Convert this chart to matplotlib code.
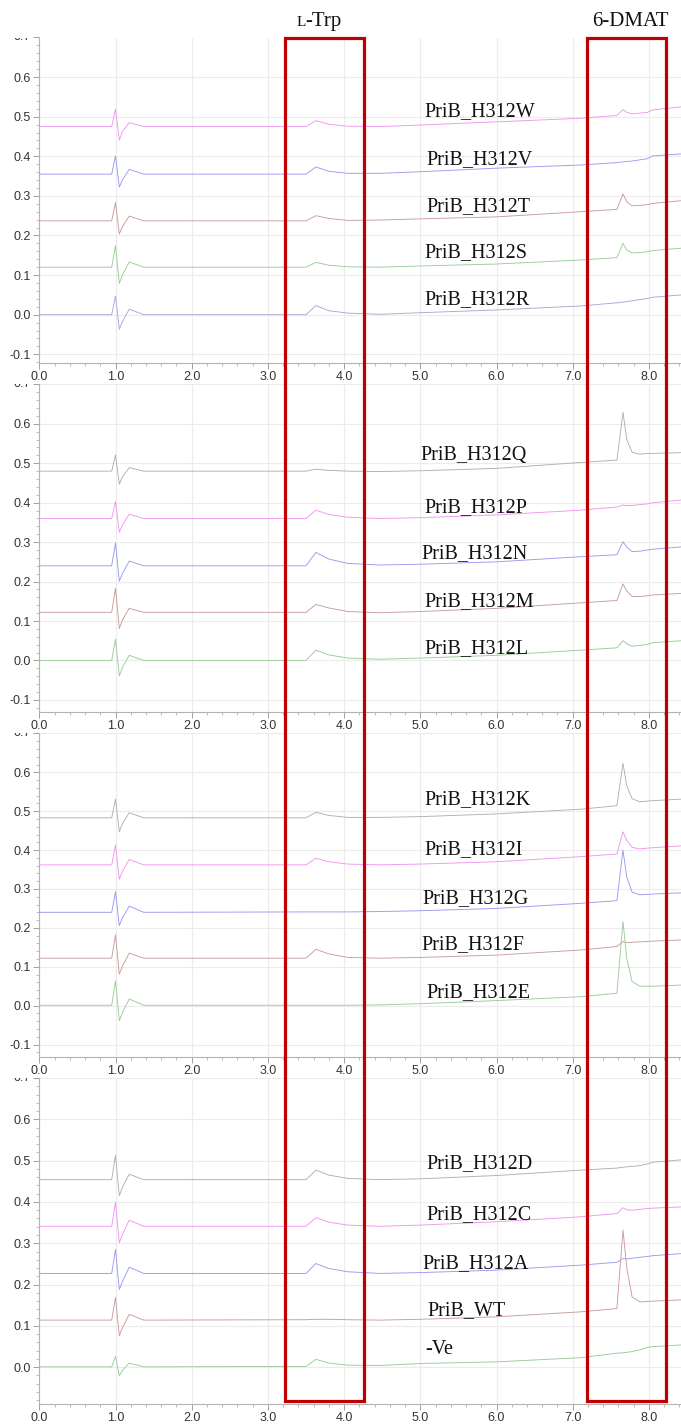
import matplotlib
matplotlib.use('Agg')
import matplotlib.pyplot as plt
from matplotlib import transforms
from matplotlib.patches import Rectangle
from matplotlib.ticker import MultipleLocator

# ---------------- data ----------------
rt = [0.0, 0.95, 1.00, 1.05, 1.09, 1.18, 1.37, 3.50, 3.63, 3.80, 4.05, 4.47,
      5.0, 6.0, 7.10, 7.58, 7.66, 7.71, 7.78, 7.88, 7.98, 8.05, 8.43]

h312w = [0.475,0.475,0.519,0.441,0.462,0.485,0.475,0.475,0.490,0.481,0.476,0.475,0.479,0.487,0.496,0.503,0.518,0.511,0.507,0.509,0.511,0.517,0.525]
h312v = [0.355,0.355,0.401,0.322,0.340,0.367,0.355,0.355,0.373,0.362,0.357,0.357,0.361,0.370,0.378,0.384,0.386,0.387,0.388,0.391,0.394,0.401,0.406]
h312t = [0.237,0.237,0.283,0.204,0.222,0.249,0.237,0.237,0.250,0.243,0.238,0.239,0.242,0.247,0.260,0.266,0.305,0.285,0.275,0.276,0.278,0.281,0.288]
h312s = [0.120,0.120,0.174,0.079,0.100,0.133,0.120,0.120,0.132,0.125,0.121,0.120,0.123,0.128,0.138,0.144,0.180,0.163,0.156,0.157,0.159,0.162,0.168]
h312r = [0.000,0.000,0.047,-0.037,-0.018,0.014,0.000,0.000,0.023,0.010,0.004,0.001,0.005,0.012,0.022,0.030,0.032,0.033,0.035,0.038,0.041,0.044,0.050]

h312q = [0.480,0.480,0.521,0.447,0.465,0.489,0.480,0.480,0.485,0.482,0.480,0.479,0.481,0.487,0.502,0.508,0.629,0.560,0.528,0.523,0.525,0.525,0.527]
h312p = [0.360,0.360,0.403,0.325,0.343,0.371,0.360,0.360,0.381,0.370,0.363,0.360,0.362,0.369,0.381,0.389,0.394,0.393,0.393,0.395,0.397,0.400,0.407]
h312n = [0.240,0.240,0.298,0.201,0.220,0.252,0.240,0.240,0.274,0.257,0.246,0.242,0.244,0.250,0.263,0.268,0.301,0.287,0.276,0.277,0.280,0.282,0.288]
h312m = [0.122,0.122,0.183,0.081,0.102,0.132,0.122,0.122,0.142,0.133,0.124,0.121,0.124,0.132,0.146,0.152,0.194,0.176,0.162,0.162,0.164,0.166,0.170]
h312l = [0.000,0.000,0.054,-0.039,-0.018,0.013,0.000,0.000,0.026,0.014,0.006,0.003,0.006,0.013,0.026,0.032,0.050,0.042,0.036,0.038,0.041,0.045,0.050]

h312k = [0.483,0.483,0.531,0.447,0.467,0.496,0.483,0.483,0.497,0.489,0.484,0.484,0.486,0.493,0.505,0.514,0.623,0.565,0.532,0.524,0.526,0.527,0.531]
h312i = [0.362,0.362,0.413,0.325,0.345,0.376,0.362,0.362,0.379,0.370,0.364,0.362,0.364,0.370,0.383,0.390,0.447,0.425,0.407,0.403,0.405,0.406,0.411]
h312g = [0.240,0.240,0.293,0.206,0.225,0.256,0.240,0.241,0.241,0.241,0.241,0.242,0.244,0.250,0.263,0.270,0.400,0.330,0.292,0.285,0.286,0.287,0.290]
h312f = [0.122,0.122,0.182,0.081,0.101,0.135,0.122,0.122,0.145,0.133,0.124,0.122,0.124,0.130,0.143,0.152,0.165,0.162,0.163,0.164,0.165,0.166,0.169]
h312e = [0.001,0.001,0.064,-0.039,-0.018,0.017,0.001,0.001,0.001,0.001,0.001,0.002,0.005,0.013,0.023,0.032,0.216,0.120,0.062,0.050,0.050,0.050,0.053]

h312d = [0.454,0.454,0.513,0.415,0.435,0.467,0.454,0.454,0.477,0.465,0.457,0.454,0.456,0.464,0.477,0.482,0.484,0.485,0.486,0.488,0.492,0.496,0.502]
h312c = [0.341,0.341,0.399,0.301,0.321,0.356,0.341,0.341,0.362,0.351,0.344,0.341,0.344,0.352,0.364,0.372,0.386,0.381,0.380,0.382,0.384,0.385,0.388]
h312a = [0.227,0.227,0.285,0.188,0.207,0.242,0.227,0.227,0.251,0.239,0.231,0.227,0.229,0.235,0.247,0.254,0.263,0.262,0.264,0.266,0.268,0.270,0.275]
wt    = [0.114,0.114,0.169,0.076,0.095,0.128,0.114,0.115,0.116,0.116,0.115,0.114,0.116,0.122,0.134,0.142,0.332,0.240,0.170,0.158,0.159,0.160,0.163]
neg   = [0.001,0.001,0.026,-0.021,-0.008,0.010,0.001,0.002,0.019,0.010,0.005,0.004,0.009,0.013,0.023,0.034,0.035,0.036,0.038,0.042,0.048,0.050,0.054]

panel_names = [
    ["PriB_H312W", "PriB_H312V", "PriB_H312T", "PriB_H312S", "PriB_H312R"],
    ["PriB_H312Q", "PriB_H312P", "PriB_H312N", "PriB_H312M", "PriB_H312L"],
    ["PriB_H312K", "PriB_H312I", "PriB_H312G", "PriB_H312F", "PriB_H312E"],
    ["PriB_H312D", "PriB_H312C", "PriB_H312A", "PriB_WT", "-Ve"],
]
panel_series = [
    [h312w, h312v, h312t, h312s, h312r],
    [h312q, h312p, h312n, h312m, h312l],
    [h312k, h312i, h312g, h312f, h312e],
    [h312d, h312c, h312a, wt, neg],
]
# label anchor positions (retention time, absorbance) per panel
label_x = [
    [5.06, 5.08, 5.08, 5.06, 5.06],
    [5.00, 5.06, 5.01, 5.06, 5.06],
    [5.05, 5.06, 5.03, 5.02, 5.08],
    [5.08, 5.08, 5.03, 5.10, 5.07],
]
label_y = [
    [0.512, 0.391, 0.274, 0.156, 0.037],
    [0.519, 0.387, 0.270, 0.148, 0.029],
    [0.531, 0.400, 0.274, 0.156, 0.033],
    [0.493, 0.370, 0.250, 0.136, 0.043],
]
xticks = [0.0, 1.0, 2.0, 3.0, 4.0, 5.0, 6.0, 7.0, 8.0]
ltrp_box = (3.22, 4.26)
dmat_box = (7.19, 8.23)

# ---------------- layout ----------------
W, H = 681, 1428
fig = plt.figure(figsize=(W / 100, H / 100), dpi=100)

left_px = 39.3
panel_px = [(37.5, 363.0), (384.0, 711.7), (733.0, 1057.0), (1078.0, 1404.0)]
panel_ylim = [(-0.122, 0.700), (-0.130, 0.701), (-0.132, 0.701), (-0.089, 0.699)]
xmax = (W - left_px) / 76.2

colors_first = ['#f096f0', '#9a9af2', '#c99c9c', '#9acc9a', '#a8a8d6']
colors_other = ['#b0b0b0', '#f096f0', '#9a9af2', '#c99c9c', '#9acc9a']

tick_font = ['Liberation Sans Narrow', 'Liberation Sans', 'DejaVu Sans']
serif = ['Liberation Serif', 'DejaVu Serif']

axes = []
for k, (top, bot) in enumerate(panel_px):
    ax = fig.add_axes([left_px / W, 1 - bot / H, 1 - left_px / W, (bot - top) / H])
    axes.append(ax)
    ax.set_xlim(0, xmax)
    ax.set_ylim(*panel_ylim[k])
    for s in ['top', 'right']:
        ax.spines[s].set_visible(False)
    for s in ['left', 'bottom']:
        ax.spines[s].set_color('#b4b4b4')
        ax.spines[s].set_linewidth(0.8)
    yt = [v / 10 for v in range(-1, 8)]
    yt = [v for v in yt if v >= panel_ylim[k][0]]
    ax.set_yticks(yt)
    ax.set_yticklabels(['' if abs(v - 0.7) < 1e-9 else f"{v:.1f}" for v in yt])
    ax.set_xticks(xticks)
    ax.set_xticklabels([f"{v:.1f}" for v in xticks])
    ax.xaxis.set_minor_locator(MultipleLocator(0.2))
    ax.yaxis.set_minor_locator(MultipleLocator(0.02))
    ax.tick_params(which='major', length=4, width=0.7, color='#a0a0a0',
                   labelsize=9, labelcolor='#333333', pad=2)
    ax.tick_params(which='minor', length=2.5, width=0.6, color='#b0b0b0')
    for lab in ax.get_xticklabels() + ax.get_yticklabels():
        lab.set_family(tick_font)
    ax.grid(True, which='major', color='#ececec', linewidth=0.8)
    ax.set_axisbelow(True)

    cols = colors_first if k == 0 else colors_other
    for series, col in zip(panel_series[k], cols):
        ax.plot(rt, series, color=col, linewidth=0.65, zorder=3)
    for name, lx, ly in zip(panel_names[k], label_x[k], label_y[k]):
        ax.text(lx, ly, name, family=serif, fontsize=14.5, color='#111111',
                ha='left', va='center', zorder=5)

    # partially hidden "0.7" label at the top of each panel
    base = transforms.blended_transform_factory(ax.transAxes, ax.transData)
    tr = transforms.offset_copy(base, fig=fig, x=-6, y=0, units='points')
    t07 = fig.text(0, 0.7, "0.7", transform=tr, ha='right', va='center',
                   fontsize=9, color='#333333', family=tick_font)
    clip = transforms.TransformedBbox(
        transforms.Bbox([[0, 0], [1, 1 - top / H]]), fig.transFigure)
    t07.set_clip_box(clip)
    t07.set_clip_on(True)

# ---------------- red boxes ----------------
box_tr = transforms.blended_transform_factory(axes[0].transData, fig.transFigure)
box_top = 1 - 38.3 / H
box_bot = 1 - 1401.0 / H
for x0, x1 in [ltrp_box, dmat_box]:
    rect = Rectangle((x0, box_bot), x1 - x0, box_top - box_bot, transform=box_tr,
                     fill=False, edgecolor='#c00000', linewidth=2.3, zorder=10)
    fig.add_artist(rect)

# ---------------- headers ----------------
hdr_tr = transforms.blended_transform_factory(axes[0].transData, fig.transFigure)
ysplit = 1 - 26 / H
xs = (305.5 - left_px) / 76.2
fig.text(xs, ysplit, "L", transform=hdr_tr, family=serif, fontsize=11,
         ha='right', va='baseline', color='#111111')
fig.text(xs, ysplit, "-Trp", transform=hdr_tr, family=serif, fontsize=15,
         ha='left', va='baseline', color='#111111')
fig.text((dmat_box[0] + dmat_box[1]) / 2 + 0.05, ysplit, "6-DMAT", transform=hdr_tr,
         family=serif, fontsize=15, ha='center', va='baseline', color='#111111')

fig.savefig('out.png', dpi=100, facecolor='white')
